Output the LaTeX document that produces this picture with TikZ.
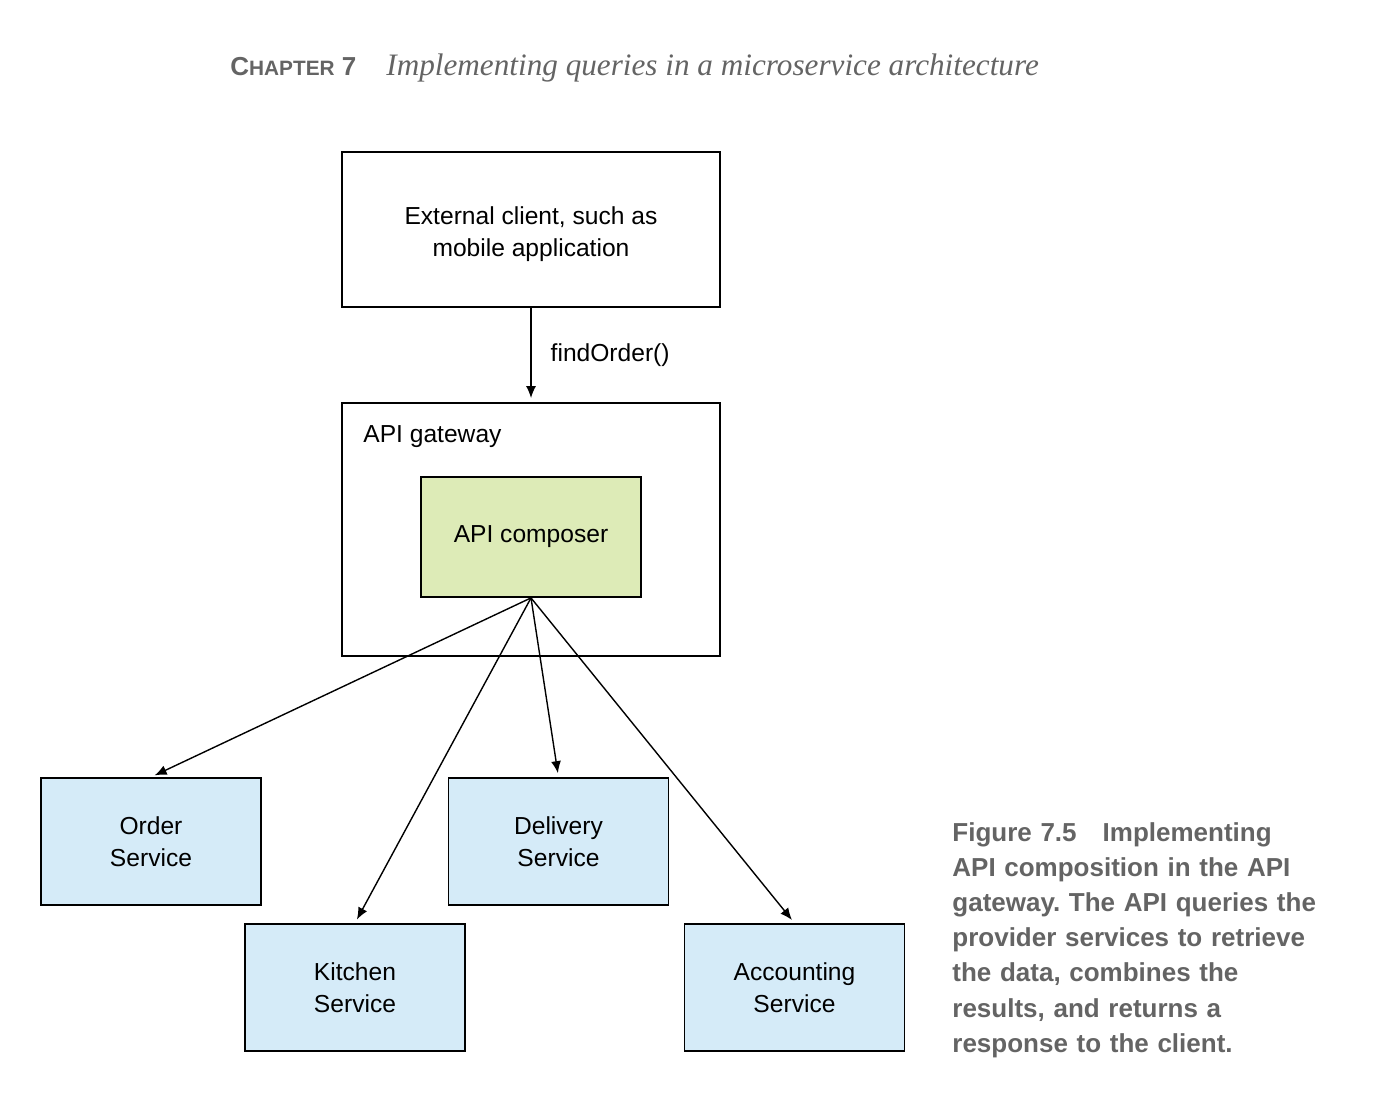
\documentclass[tikz,border=0pt]{standalone}
\usepackage{fontspec}
\setmainfont{Liberation Sans}
\newfontfamily\headfont{Liberation Serif}
\usetikzlibrary{arrows.meta}

\definecolor{composergreen}{RGB}{221,235,183}
\definecolor{serviceblue}{RGB}{213,235,248}
\definecolor{captiongray}{RGB}{100,100,100}

\tikzset{
  box/.style={draw=black, line width=0.9pt, inner sep=0pt, align=center,
    font=\fontsize{12.3}{16}\selectfont},
  service/.style={box, fill=serviceblue, minimum width=110pt, minimum height=63.5pt},
  call/.style={-{Latex[length=6pt,width=5pt]}, line width=0.7pt, shorten >=2pt},
  plain/.style={inner sep=0pt, font=\fontsize{12.3}{16}\selectfont},
}

\begin{document}
\frenchspacing
\begin{tikzpicture}[x=0.5pt,y=0.5pt,yscale=-1,xscale=1]
\useasboundingbox (0,0) rectangle (1388,1118);

% Header
\node (chapter) [anchor=base west, inner sep=0pt, text=captiongray]
  at (230,76) {\fontsize{13}{13}\selectfont\bfseries C{\fontsize{10.4}{10}\selectfont HAPTER} 7};
\node (title) [anchor=base west, inner sep=0pt, text=captiongray]
  at (386,76) {\fontsize{15.6}{15.6}\selectfont\headfont\itshape Implementing queries in a microservice architecture};

% Client and gateway
\node (client) [box, minimum width=189pt, minimum height=77.5pt] at (531,229.5) {};
\node (clienttext) [plain, align=center] at (531,234.5) {External client, such as\\mobile application};
\node (gateway) [box, minimum width=189pt, minimum height=126.5pt] at (531,529.5) {};
\node (gwlabel) [plain, anchor=base west] at (363,443) {API gateway};
\node (composer) [box, fill=composergreen, minimum width=110pt, minimum height=60pt] at (531,537)
  {API composer};

\draw [call] (client.south) -- (gateway.north)
  node [midway, right=9.5pt, plain] (findorder) {findOrder()};

% Services
\node (order) [service] at (151,841.5) {Order\\Service};
\node (delivery) [service] at (558.5,841.5) {Delivery\\Service};
\node (kitchen) [service] at (355,987.5) {Kitchen\\Service};
\node (accounting) [service] at (794.5,987.5) {Accounting\\Service};

\draw [call] (composer.south) -- (order.north);
\draw [call] (composer.south) -- (kitchen.north);
\draw [call] (composer.south) -- (delivery.north);
\draw [call] (composer.south) -- (accounting.north);

% Caption
\node (caption) [anchor=base west, inner sep=0pt, text=captiongray, align=left, text width=200pt,
  font=\fontsize{13}{17.6}\selectfont\bfseries] at (952,841)
  {Figure 7.5\quad Implementing\\API composition in the API\\gateway. The API queries the\\provider services to retrieve\\the data, combines the\\results, and returns a\\response to the client.};

\end{tikzpicture}
\end{document}
